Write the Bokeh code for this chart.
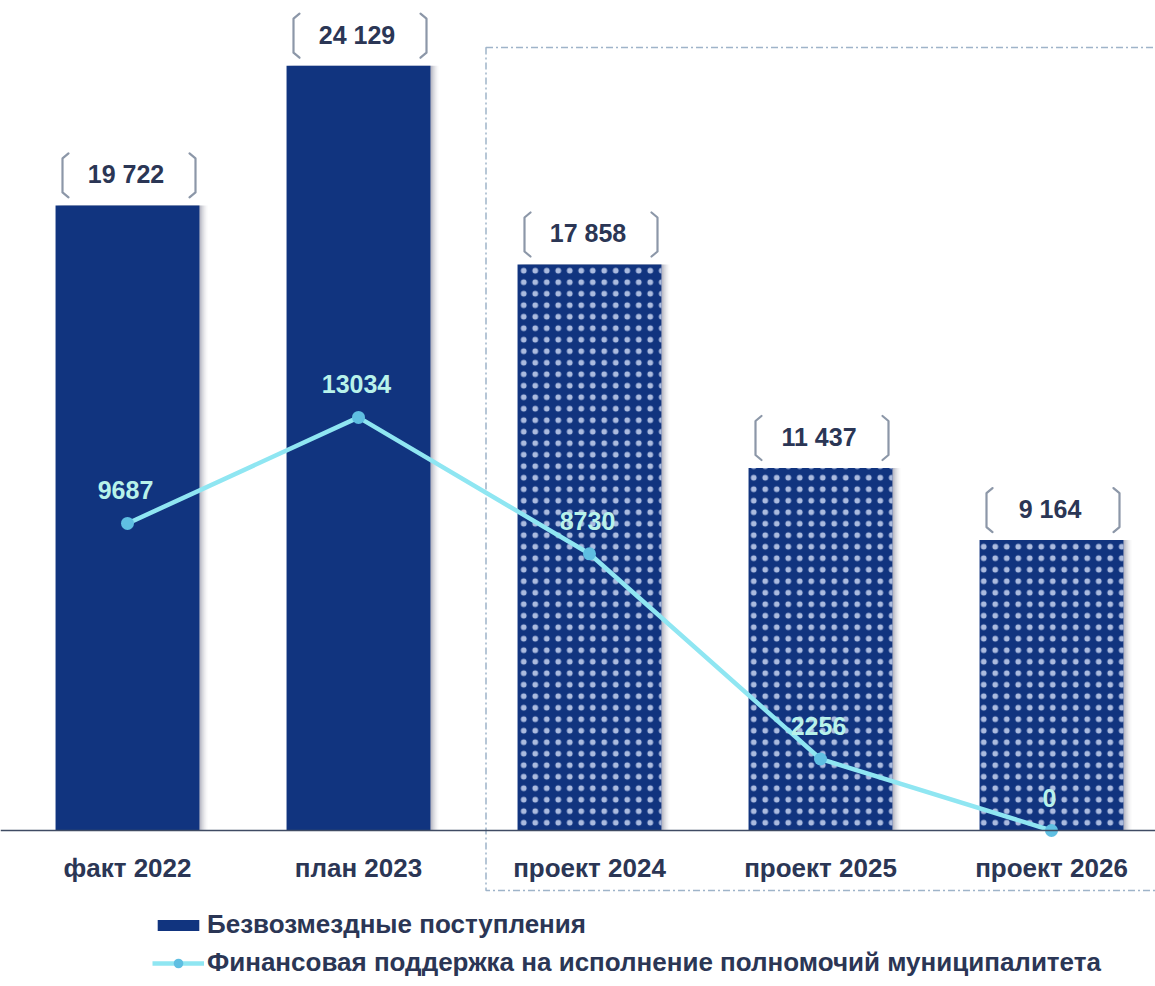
from bokeh.plotting import figure
from bokeh.models import Range1d, LinearAxis, FixedTicker, Legend, LegendItem, ColumnDataSource
from bokeh.core.properties import value
from bokeh.embed import file_html
from bokeh.resources import INLINE

# ---- data ----
categories = ["факт 2022", "план 2023", "проект 2024", "проект 2025", "проект 2026"]
receipts = [19722, 24129, 17858, 11437, 9164]
receipt_labels = ["19 722", "24 129", "17 858", "11 437", "9 164"]
support = [9687, 13034, 8730, 2256, 0]
support_labels = ["9687", "13034", "8730", "2256", "0"]
projected = [False, False, True, True, True]
series_names = ["Безвозмездные поступления",
                "Финансовая поддержка на исполнение полномочий муниципалитета"]

# ---- layout constants ----
FONT = "Liberation Sans"
W, H = 1155, 984
PX_PER_CAT = 231.0
UPP = 31.55            # value units per pixel
DX = 1.0 / PX_PER_CAT  # category units per pixel
x_start = -127 / PX_PER_CAT
x_end = x_start + W / PX_PER_CAT
y_end = 830 * UPP
y_start = y_end - H * UPP

BAR = "#11347f"
TXT = "#2b3655"
LINE = "#8fe6f2"
DOT = "#5fbfe2"
LBL = "#b8f2ea"

p = figure(width=W, height=H, output_backend="svg", toolbar_location=None,
           x_axis_location=None, y_axis_location=None, min_border=0,
           x_range=Range1d(x_start, x_end), y_range=Range1d(y_start, y_end),
           background_fill_color="white", border_fill_color="white")
p.outline_line_color = None
p.grid.visible = False

idx = list(range(len(categories)))

# dashed frame around projections
p.quad(left=[1.5 + 12 * DX], right=[x_end + 1], top=[783 * UPP], bottom=[-60 * UPP],
       fill_color=None, line_color="#9fb4c9", line_width=1.5, line_dash="7 3 2 3")

# soft shadows
for off, a in [(2, 0.18), (4, 0.12), (6, 0.08), (8, 0.04)]:
    p.vbar(x=[i + off * DX for i in idx], top=receipts, bottom=0,
           width=0.623, fill_color="#4a5068", fill_alpha=a, line_color=None)

solid_idx = [i for i in idx if not projected[i]]
proj_idx = [i for i in idx if projected[i]]
solid_src = ColumnDataSource(dict(x=solid_idx, top=[receipts[i] for i in solid_idx]))
proj_src = ColumnDataSource(dict(x=proj_idx, top=[receipts[i] for i in proj_idx]))

solid_r = p.vbar(x="x", top="top", bottom=0, width=0.623, source=solid_src,
                 fill_color=BAR, line_color=None)
p.vbar(x="x", top="top", bottom=0, width=0.623, source=proj_src,
       fill_color=BAR, line_color=None, hatch_pattern="dot", hatch_color="#d2ddf7",
       hatch_scale=11.5, hatch_weight=1.0, hatch_alpha=0.8)

# bracket labels over bars
arm, r = 6 * DX, 5 * UPP
xs, ys = [], []
for i, t in zip(idx, receipts):
    yb, yt = t + 8 * UPP, t + 52 * UPP
    xl, xr = i - 65 * DX, i + 68 * DX
    xs.append([xl + arm, xl, xl, xl + arm]); ys.append([yt, yt - r, yb + r, yb])
    xs.append([xr - arm, xr, xr, xr - arm]); ys.append([yt, yt - r, yb + r, yb])
p.multi_line(xs=xs, ys=ys, line_color="#8c97a8", line_width=2.2, line_join="round", line_cap="round")
p.text(x=[i - 1.5 * DX for i in idx], y=[t + 31 * UPP for t in receipts], text=receipt_labels,
       text_font=value(FONT), text_font_style="bold", text_font_size="25px",
       text_color=TXT, text_align="center", text_baseline="middle")

# line series
line_r = p.line(x=idx, y=support, line_color=LINE, line_width=4.5)
circ_r = p.scatter(x=idx, y=support, size=13, fill_color=DOT, line_color=None)
p.text(x=[i - 2 * DX for i in idx], y=[s + 33 * UPP for s in support], text=support_labels,
       text_font=value(FONT), text_font_style="bold", text_font_size="25px",
       text_color=LBL, text_align="center", text_baseline="middle")

# x axis on the zero line
xax = LinearAxis(fixed_location=0, ticker=FixedTicker(ticks=idx),
                 major_label_overrides={i: c for i, c in zip(idx, categories)})
xax.axis_line_color = "#3f4b63"
xax.axis_line_width = 1.5
xax.major_tick_line_color = None
xax.minor_tick_line_color = None
xax.major_label_standoff = 16
xax.major_label_text_font = FONT
xax.major_label_text_font_style = "bold"
xax.major_label_text_font_size = "26px"
xax.major_label_text_color = TXT
p.add_layout(xax, "below")

legend_style = dict(orientation="vertical", glyph_width=52, padding=0, margin=0,
                    label_standoff=3, label_text_font=FONT, label_text_font_style="bold",
                    label_text_font_size="26px", label_text_color=TXT,
                    border_line_color=None, background_fill_alpha=0)
legend_bars = Legend(items=[LegendItem(label=series_names[0], renderers=[solid_r])],
                     location=(152, 44), glyph_height=14, label_height=30, **legend_style)
legend_line = Legend(items=[LegendItem(label=series_names[1], renderers=[line_r, circ_r])],
                     location=(152, 6), glyph_height=24, label_height=30, **legend_style)
p.add_layout(legend_bars)
p.add_layout(legend_line)

open("out.html", "w").write(file_html(p, INLINE))
